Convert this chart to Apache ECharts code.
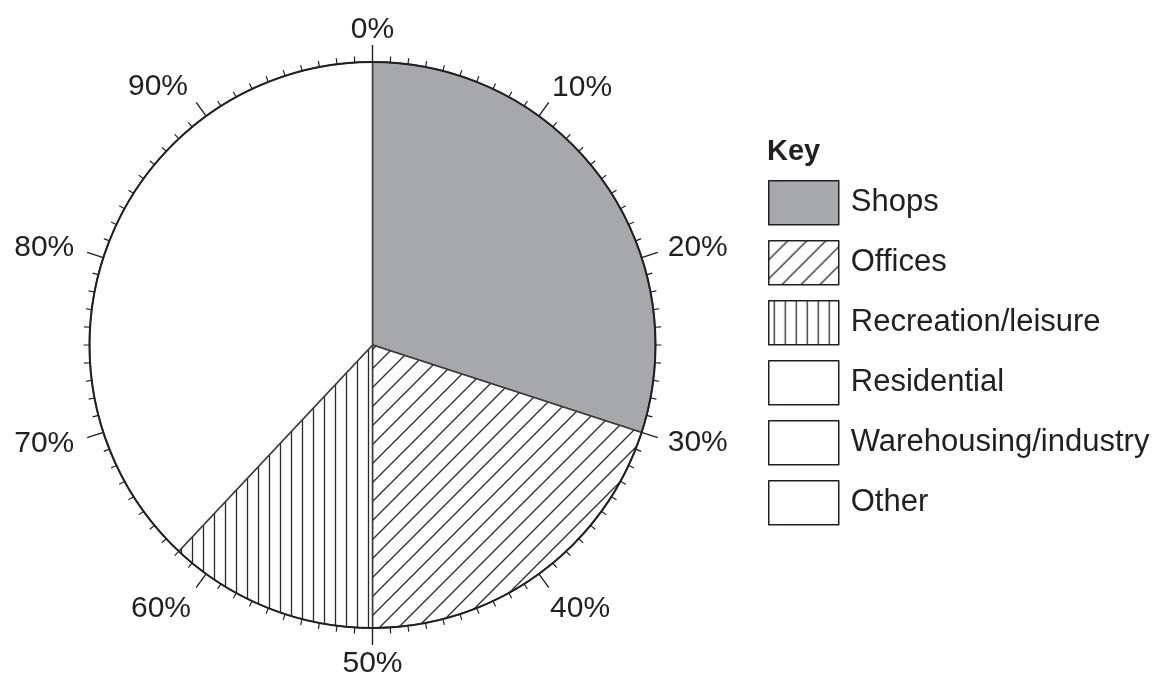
<!DOCTYPE html>
<html>
<head>
<meta charset="utf-8">
<title>Land use</title>
<script src="https://cdn.jsdelivr.net/npm/echarts@6/dist/echarts.min.js"></script>
<style>
  html, body { margin: 0; padding: 0; background: #ffffff; }
  #chart { width: 1163px; height: 680px; }
</style>
</head>
<body>
<div id="chart"></div>
<script>
// Land-use categories and their shares (per cent); the last three are still blank
const categories = ['Shops', 'Offices', 'Recreation/leisure', 'Residential', 'Warehousing/industry', 'Other'];
const shares = [30, 20, 12, 0, 0, 0];
// part of the circle not yet divided up
const unassigned = 38;
// percentage scale round the rim
const scaleMin = 0;
const scaleMax = 100;
const scaleStep = 10;

const INK = '#231f20';
const FONT = '"Liberation Sans", Arial, Helvetica, sans-serif';

// small repeating tiles used as hatch fills
function hatchTile(w, h, draw) {
  const c = document.createElement('canvas');
  c.width = w; c.height = h;
  const g = c.getContext('2d');
  g.fillStyle = '#ffffff';
  g.fillRect(0, 0, w, h);
  g.strokeStyle = '#2a2a2a';
  g.lineWidth = 1.3;
  g.beginPath();
  draw(g, w, h);
  g.stroke();
  return { image: c, repeat: 'repeat' };
}
const diagonalFill = hatchTile(19, 19, (g, w, h) => {
  g.moveTo(-2, h + 2); g.lineTo(w + 2, -2);
  g.moveTo(-2, 2); g.lineTo(2, -2);
  g.moveTo(w - 2, h + 2); g.lineTo(w + 2, h - 2);
});
const verticalFill = hatchTile(11, 11, (g, w, h) => {
  g.moveTo(5.5, 0); g.lineTo(5.5, h);
});

const fills = [ '#a7a8ab', diagonalFill, verticalFill, '#ffffff', '#ffffff', '#ffffff' ];

const pieData = categories.map((name, i) => ({
  name: name,
  value: shares[i],
  itemStyle: {
    color: fills[i],
    borderColor: '#3a3a3a',
    borderWidth: shares[i] > 0 ? 1.5 : 0
  }
}));
pieData.push({
  name: 'Remaining',
  value: unassigned,
  itemStyle: { color: '#ffffff', borderColor: '#3a3a3a', borderWidth: 1.5 }
});

// per-label spacing tweaks for the rim scale (line height, side padding)
const rimLabelStyle = {
  0:  { lh: 27, pad: [0, 0, 0, 0] },
  10: { lh: 26, pad: [0, 0, 0, 2] },
  20: { lh: 8,  pad: [0, 0, 0, 8] },
  30: { lh: 8,  pad: [0, 0, 0, 8] },
  40: { lh: 38, pad: [0, 0, 0, 0] },
  50: { lh: 33, pad: [0, 0, 0, 0] },
  60: { lh: 38, pad: [0, 4, 0, 0] },
  70: { lh: 10, pad: [0, 11, 0, 0] },
  80: { lh: 8,  pad: [0, 11, 0, 0] },
  90: { lh: 27, pad: [0, 7, 0, 0] }
};
const rimRich = {};
Object.keys(rimLabelStyle).forEach(k => {
  rimRich['s' + k] = {
    fontFamily: FONT, fontSize: 30, color: INK,
    lineHeight: rimLabelStyle[k].lh,
    padding: rimLabelStyle[k].pad
  };
});

const CENTER = [372.5, 345];
const RADIUS = 283;

const chart = echarts.init(document.getElementById('chart'), null, { renderer: 'canvas' });
chart.setOption({
  backgroundColor: '#ffffff',
  animation: false,
  title: {
    text: 'Key',
    left: 762,
    top: 132,
    textStyle: { fontFamily: FONT, fontSize: 29, fontWeight: 'bold', color: INK }
  },
  legend: {
    orient: 'vertical',
    left: 763,
    top: 175,
    icon: 'rect',
    itemWidth: 70,
    itemHeight: 44,
    itemGap: 14.5,
    selectedMode: false,
    data: categories,
    itemStyle: { borderColor: INK, borderWidth: 1.5 },
    textStyle: { fontFamily: FONT, fontSize: 31, color: INK, padding: [3, 0, 0, 7] }
  },
  polar: { center: CENTER, radius: RADIUS },
  angleAxis: {
    type: 'value',
    min: scaleMin,
    max: scaleMax,
    interval: scaleStep,
    startAngle: 90,
    clockwise: true,
    z: 10,
    axisLine: { show: true, lineStyle: { color: INK, width: 2 } },
    axisTick: { show: true, inside: false, length: 17, lineStyle: { color: INK, width: 1.4 } },
    minorTick: { show: true, splitNumber: 10, length: 6, lineStyle: { color: INK, width: 1.2 } },
    splitLine: { show: false },
    axisLabel: {
      show: true,
      margin: 19,
      fontFamily: FONT,
      fontSize: 30,
      color: INK,
      formatter: v => (v >= scaleMax ? '' : '{s' + v + '|' + v + '%}'),
      rich: rimRich
    }
  },
  radiusAxis: { show: false, min: 0, max: 1 },
  series: [{
    type: 'pie',
    center: CENTER,
    radius: RADIUS,
    startAngle: 90,
    clockwise: true,
    silent: true,
    label: { show: false },
    labelLine: { show: false },
    emphasis: { disabled: true },
    data: pieData
  }]
});
</script>
</body>
</html>
